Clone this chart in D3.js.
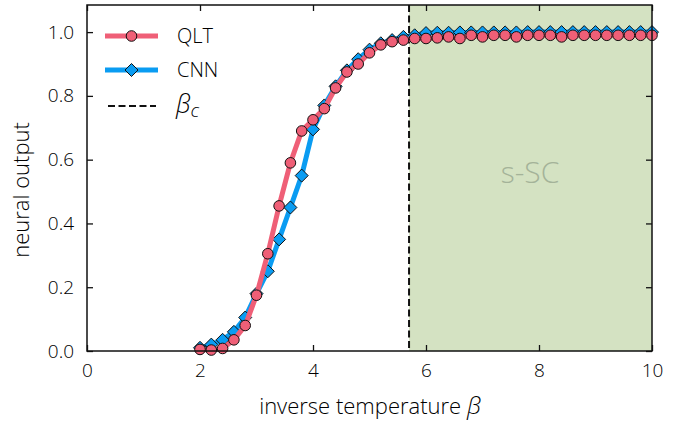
<!DOCTYPE html>
<html>
<head>
<meta charset="utf-8">
<script src="https://cdn.jsdelivr.net/npm/d3@7"></script>
<style>
	body { margin: 0; background: #fff; }
	svg text { font-family: "Open Sans", "DejaVu Sans", sans-serif; font-weight: 300; fill: #000; }
</style>
</head>
<body>
<svg id="myGraph" width="688" height="422"></svg>
<script>
// 데이터
var beta = [2.0, 2.2, 2.4, 2.6, 2.8, 3.0, 3.2, 3.4, 3.6, 3.8,
			4.0, 4.2, 4.4, 4.6, 4.8, 5.0, 5.2, 5.4, 5.6, 5.8,
			6.0, 6.2, 6.4, 6.6, 6.8, 7.0, 7.2, 7.4, 7.6, 7.8,
			8.0, 8.2, 8.4, 8.6, 8.8, 9.0, 9.2, 9.4, 9.6, 9.8, 10.0];
var qlt = [0.005, 0.003, 0.008, 0.035, 0.08, 0.175, 0.305, 0.455, 0.59, 0.69,
		   0.725, 0.76, 0.825, 0.875, 0.90, 0.935, 0.96, 0.97, 0.975, 0.98,
		   0.98, 0.982, 0.985, 0.98, 0.99, 0.985, 0.99, 0.99, 0.985, 0.99,
		   0.99, 0.99, 0.985, 0.99, 0.99, 0.99, 0.99, 0.99, 0.99, 0.99, 0.99];
var cnn = [0.01, 0.02, 0.035, 0.06, 0.105, 0.18, 0.25, 0.35, 0.45, 0.55,
		   0.695, 0.77, 0.83, 0.88, 0.915, 0.945, 0.965, 0.975, 0.985, 0.99,
		   0.997, 0.998, 0.998, 0.999, 0.999, 0.999, 0.999, 0.999, 0.999, 1.0,
		   1.0, 1.0, 1.0, 1.0, 1.0, 1.0, 1.0, 1.0, 1.0, 1.0, 1.0];
var betaC = 5.7;
var xTicks = [0, 2, 4, 6, 8, 10];
var yTicks = [0.0, 0.2, 0.4, 0.6, 0.8, 1.0];

// 플롯 영역 (window.top 과 겹치지 않도록 이름 변경)
var pLeft = 87, pRight = 652, pTop = 5, pBottom = 351;
var svg = d3.select("#myGraph");

var xScale = d3.scaleLinear().domain([0, 10]).range([pLeft, pRight]);
var yScale = d3.scaleLinear().domain([0, 1.085]).range([pBottom, pTop]);

var qltColor = "#ef5f77";
var cnnColor = "#0a9cf2";

// 임계 영역 배경
svg.append("rect")
	.attr("x", xScale(betaC))
	.attr("y", pTop)
	.attr("width", xScale(10) - xScale(betaC))
	.attr("height", pBottom - pTop)
	.attr("fill", "#d4e2c2");

svg.append("text")
	.attr("x", 530).attr("y", 183)
	.attr("text-anchor", "middle")
	.style("font-size", "30px")
	.style("fill", "#a4b399")
	.text("s-SC");

// 눈금 (안쪽)
var xAxisB = d3.axisBottom(xScale).tickValues(xTicks).tickSizeInner(-6).tickSizeOuter(0).tickPadding(13)
	.tickFormat(d3.format("d"));
var xAxisT = d3.axisTop(xScale).tickValues(xTicks).tickSizeInner(-6).tickSizeOuter(0).tickFormat("");
var yAxisL = d3.axisLeft(yScale).tickValues(yTicks).tickSizeInner(-6).tickSizeOuter(0).tickPadding(13)
	.tickFormat(d3.format(".1f"));
var yAxisR = d3.axisRight(yScale).tickValues(yTicks).tickSizeInner(-6).tickSizeOuter(0).tickFormat("");

function styleAxis(g){
	g.select(".domain").remove();
	g.selectAll("line").attr("stroke", "#111").attr("stroke-width", 1.3);
	g.selectAll("text").style("font-size", "19px").style("fill", "#000");
}
svg.append("g").attr("transform", "translate(0," + pBottom + ")").call(xAxisB).call(styleAxis);
svg.append("g").attr("transform", "translate(0," + pTop + ")").call(xAxisT).call(styleAxis);
svg.append("g").attr("transform", "translate(" + pLeft + ",0)").call(yAxisL).call(styleAxis);
svg.append("g").attr("transform", "translate(" + pRight + ",0)").call(yAxisR).call(styleAxis);

// 임계점 점선
svg.append("line")
	.attr("x1", xScale(betaC)).attr("x2", xScale(betaC))
	.attr("y1", pTop).attr("y2", pBottom)
	.attr("stroke", "#111").attr("stroke-width", 2)
	.attr("stroke-dasharray", "7,3.5");

var line = d3.line()
	.x(function(d, i){ return xScale(beta[i]); })
	.y(function(d, i){ return yScale(d); });

var diamond = "M0,-6.5L6.5,0L0,6.5L-6.5,0Z";

// CNN
svg.append("path").datum(cnn)
	.attr("d", line).attr("fill", "none")
	.attr("stroke", cnnColor).attr("stroke-width", 5);
svg.selectAll("path.cnn").data(cnn).enter()
	.append("path").attr("class", "cnn")
	.attr("d", diamond)
	.attr("transform", function(d, i){ return "translate(" + xScale(beta[i]) + "," + yScale(d) + ")"; })
	.attr("fill", cnnColor).attr("stroke", "#111").attr("stroke-width", 1);

// QLT
svg.append("path").datum(qlt)
	.attr("d", line).attr("fill", "none")
	.attr("stroke", qltColor).attr("stroke-width", 5);
svg.selectAll("circle.qlt").data(qlt).enter()
	.append("circle").attr("class", "qlt")
	.attr("cx", function(d, i){ return xScale(beta[i]); })
	.attr("cy", function(d, i){ return yScale(d); })
	.attr("r", 5.3)
	.attr("fill", qltColor).attr("stroke", "#111").attr("stroke-width", 1);

// 테두리
svg.append("rect")
	.attr("x", pLeft).attr("y", pTop)
	.attr("width", pRight - pLeft).attr("height", pBottom - pTop)
	.attr("fill", "none").attr("stroke", "#111").attr("stroke-width", 1.5);

// 범례
var lg = svg.append("g");
lg.append("line").attr("x1", 105).attr("x2", 158).attr("y1", 36).attr("y2", 36)
	.attr("stroke", qltColor).attr("stroke-width", 5);
lg.append("circle").attr("cx", 131.5).attr("cy", 36).attr("r", 5.3)
	.attr("fill", qltColor).attr("stroke", "#111");
lg.append("text").attr("x", 177).attr("y", 43).style("font-size", "20px").text("QLT");

lg.append("line").attr("x1", 105).attr("x2", 158).attr("y1", 70).attr("y2", 70)
	.attr("stroke", cnnColor).attr("stroke-width", 5);
lg.append("path").attr("d", diamond).attr("transform", "translate(131.5,70)")
	.attr("fill", cnnColor).attr("stroke", "#111");
lg.append("text").attr("x", 177).attr("y", 77).style("font-size", "20px").text("CNN");

lg.append("line").attr("x1", 108).attr("x2", 156).attr("y1", 106).attr("y2", 106)
	.attr("stroke", "#111").attr("stroke-width", 2).attr("stroke-dasharray", "7,3.5");
var bc = lg.append("text").attr("x", 176).attr("y", 113).style("font-size", "25px");
bc.append("tspan").style("font-style", "italic").text("β");
bc.append("tspan").style("font-style", "italic").style("font-size", "19px").attr("dy", 4).text("c");

// 축 제목
var xl = svg.append("text").attr("x", 370).attr("y", 414).attr("text-anchor", "middle").style("font-size", "22px");
xl.append("tspan").text("inverse temperature ");
xl.append("tspan").style("font-style", "italic").style("font-size", "24px").text("β");

svg.append("text")
	.attr("transform", "translate(29," + ((pTop + pBottom) / 2 + 12) + ") rotate(-90)")
	.attr("text-anchor", "middle").style("font-size", "22px")
	.text("neural output");
</script>
</body>
</html>
